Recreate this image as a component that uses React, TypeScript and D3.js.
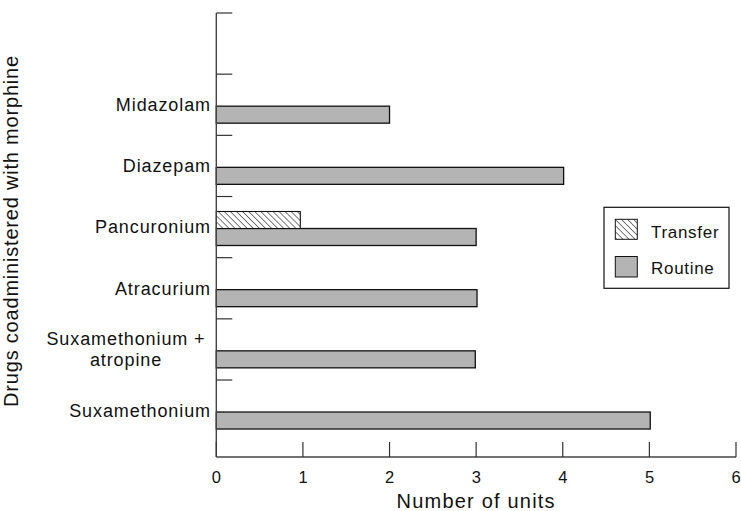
import React from "react";
import * as d3 from "d3";

const categories = ["", "Midazolam", "Diazepam", "Pancuronium", "Atracurium", "Suxamethonium + atropine", "Suxamethonium"];
const categoryLines: string[][] = [[], ["Midazolam"], ["Diazepam"], ["Pancuronium"], ["Atracurium"], ["Suxamethonium +", "atropine"], ["Suxamethonium"]];
const routineValues = [null, 2, 4.01, 3, 3.01, 2.99, 5.01];
const transferValues = [null, null, null, 0.97, null, null, null];
const xTicks = [0, 1, 2, 3, 4, 5, 6];
const seriesNames = ["Transfer", "Routine"];

export default function App() {
  const W = 741, H = 511;
  const font = "'Liberation Sans', Arial, Helvetica, sans-serif";
  const x0 = 216.3, x1 = 736;
  const top = 13, step = 61.17, axisY = 457;
  const x = d3.scaleLinear().domain([0, 6]).range([x0, x1]);
  const y = d3.scaleBand<string>().domain(categories).range([top, top + step * categories.length]).padding(0);
  const bw = y.bandwidth();
  const barOff = bw * 0.523;
  const barH = bw * 0.278;
  const fill = "#b4b4b4";

  return (
    <svg width={W} height={H} style={{ position: "absolute", left: 0, top: 0, background: "#fff" }} fontFamily={font}>
      <defs>
        <pattern id="hatch" patternUnits="userSpaceOnUse" width="4.3" height="4.3" patternTransform="rotate(-45)">
          <rect width="4.3" height="4.3" fill="#fff" />
          <line x1="0" y1="0" x2="0" y2="4.3" stroke="#111" strokeWidth="1.1" />
        </pattern>
      </defs>
      <rect width={W} height={H} fill="#fff" />
      {/* bars */}
      {categories.map((c, i) => {
        const by = (y(c) as number) + barOff;
        const r = routineValues[i];
        const t = transferValues[i];
        return (
          <g key={i}>
            {r != null && (
              <rect x={x(0)} y={by} width={x(r) - x(0)} height={barH} fill={fill} stroke="#111" strokeWidth={1.3} />
            )}
            {t != null && (
              <rect x={x(0)} y={by - barH} width={x(t) - x(0)} height={barH} fill="url(#hatch)" stroke="#111" strokeWidth={1.1} />
            )}
          </g>
        );
      })}
      {/* y axis */}
      <line x1={x0} y1={top} x2={x0} y2={axisY} stroke="#444" strokeWidth={1.4} />
      {categories.map((c, i) => (
        <line key={"yt" + i} x1={x0} x2={x0 + 16} y1={y(c) as number} y2={y(c) as number} stroke="#333" strokeWidth={1.2} />
      ))}
      {categories.map((c, i) => {
        const lines = categoryLines[i];
        const cy = (y(c) as number) + bw / 2;
        const lh = 21.5;
        const multi = lines.length > 1;
        return lines.map((ln, j) => (
          <text
            key={"yl" + i + j}
            x={multi ? 126 : 211}
            y={cy + (j - (lines.length - 1) / 2) * lh}
            dy="0.35em"
            textAnchor={multi ? "middle" : "end"}
            fontSize={18}
            letterSpacing={0.9}
            fill="#111"
          >
            {ln}
          </text>
        ));
      })}
      {/* x axis */}
      <line x1={x0} y1={axisY} x2={x1} y2={axisY} stroke="#444" strokeWidth={1.4} />
      {xTicks.map((v) => (
        <g key={"xt" + v}>
          <line x1={x(v)} x2={x(v)} y1={axisY} y2={axisY - 15} stroke="#333" strokeWidth={1.2} />
          <text x={x(v) + 0.4} y={477.5} dy="0.35em" textAnchor="middle" fontSize={16.5} letterSpacing={0.5} fill="#111">{v}</text>
        </g>
      ))}
      <text x={(x0 + x1) / 2} y={501} dy="0.35em" textAnchor="middle" fontSize={20} letterSpacing={1.2} fill="#111">Number of units</text>
      <text transform={`translate(18,${231}) rotate(-90)`} textAnchor="middle" fontSize={20} letterSpacing={0.8} fill="#111">
        Drugs coadministered with morphine
      </text>
      {/* legend */}
      <rect x={604} y={207.3} width={125} height={81} fill="#fff" stroke="#111" strokeWidth={1.2} />
      <rect x={615.3} y={219.3} width={22} height={20} fill="url(#hatch)" stroke="#111" strokeWidth={1} />
      <rect x={615.3} y={256.5} width={22} height={20.5} fill={fill} stroke="#111" strokeWidth={1} />
      <text x={651} y={231.7} dy="0.35em" fontSize={17} letterSpacing={0.7} fill="#111">{seriesNames[0]}</text>
      <text x={651} y={268.3} dy="0.35em" fontSize={17} letterSpacing={0.7} fill="#111">{seriesNames[1]}</text>
    </svg>
  );
}
